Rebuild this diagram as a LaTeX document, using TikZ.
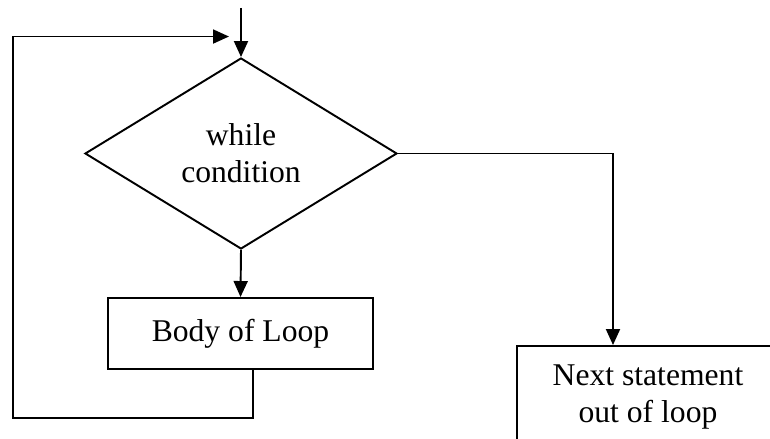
\documentclass[tikz,border=0pt]{standalone}
\usepackage{fontspec}
\setmainfont{Liberation Serif}
\usetikzlibrary{calc, shapes.geometric, arrows.meta, positioning}

\tikzset{
    flow/.style={draw, line width=1.1pt, font=\fontsize{18}{21}\selectfont, align=center},
    arr/.style={line width=1.1pt, -{Triangle[length=0.32cm, width=0.28cm]}}
}

\begin{document}
\begin{tikzpicture}
            \useasboundingbox (0, 0) rectangle (15.4, 8.78);
            \clip (0, 0) rectangle (15.4, 8.78);
            \coordinate (in) at (4.82, 8.62);
            \node[flow, diamond, inner sep=0pt, minimum width=6.24cm, minimum height=3.82cm] (cond) at (4.82, 5.71) {while\\condition};
            \node[flow, rectangle, minimum width=5.3cm, minimum height=1.42cm] (body) at (4.81, 2.11) {Body of Loop};
            \node[flow, rectangle, minimum width=5.24cm, minimum height=2.04cm] (next) at (12.96, 0.84) {Next statement\\out of loop};
            \coordinate (corner) at (0.26, 0.42);
            \coordinate (back) at ($(cond.north) + (-0.24, 0.41)$);
            \draw[arr] (in) -- (cond.north);
            \draw[arr] (cond.south) -- (body.north);
            \draw[arr] ([xshift=0.25cm]body.south) |- (corner) |- (back);
            \draw[arr] (cond.east) -| ([xshift=-0.7cm]next.north);
        \end{tikzpicture}
\end{document}
